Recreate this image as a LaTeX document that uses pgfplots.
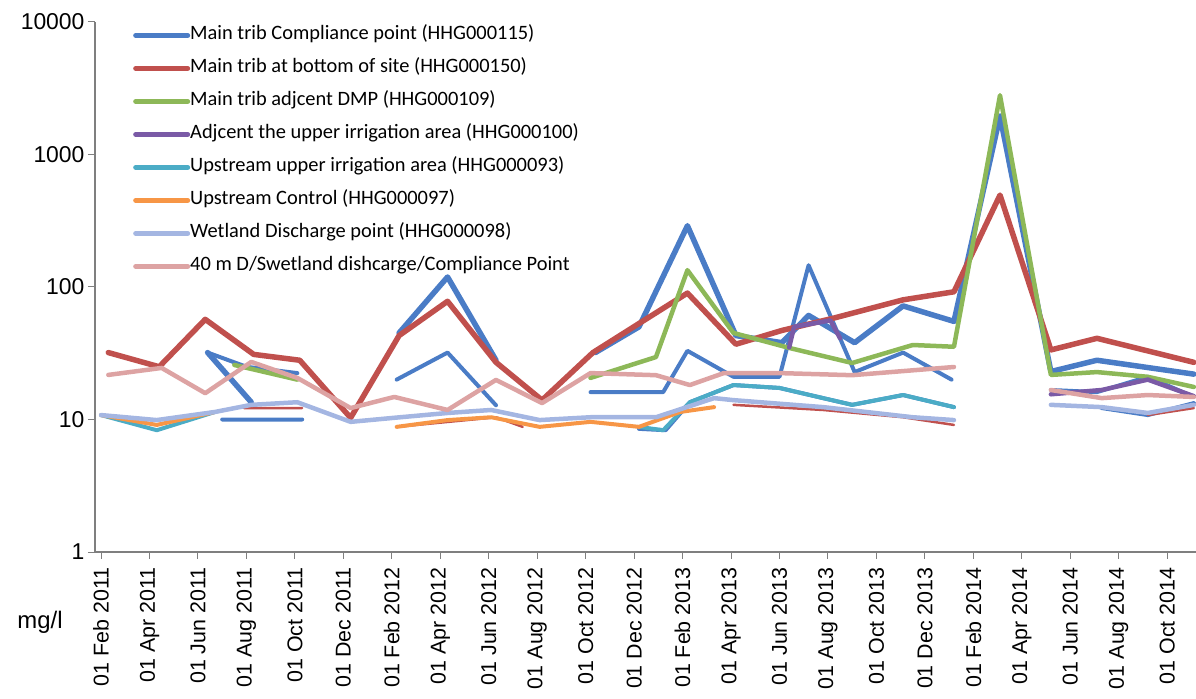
\documentclass[border=0pt]{standalone}
\usepackage{fontspec}
\setmainfont{Liberation Sans}
\newfontfamily\calibri{Carlito}
\usepackage{pgfplots}
\pgfplotsset{compat=1.18}

\definecolor{cBlue}{HTML}{4A7CC6}
\definecolor{cRed}{HTML}{C0504D}
\definecolor{cGreen}{HTML}{8DB858}
\definecolor{cPurple}{HTML}{7A5AA6}
\definecolor{cTeal}{HTML}{4BACC6}
\definecolor{cOrange}{HTML}{F79646}
\definecolor{cWet}{HTML}{A4B6E2}
\definecolor{cPink}{HTML}{DDA3A3}
\definecolor{axisgray}{HTML}{7F7F7F}

\begin{document}
\begin{tikzpicture}
\begin{axis}[
  at={(0,0)}, anchor=south west,
  scale only axis, width=1101bp, height=530bp,
  xmin=-0.25, xmax=45.19,
  ymode=log, ymin=1, ymax=10000,
  axis x line=bottom, axis y line=left,
  axis line style={axisgray, line width=1.2bp, -},
  tick style={axisgray, line width=1bp},
  major tick length=7bp,
  tick align=outside,
  yminorticks=false,
  xtick={0,2,...,44},
  xticklabels={01 Feb 2011,01 Apr 2011,01 Jun 2011,01 Aug 2011,01 Oct 2011,01 Dec 2011,
               01 Feb 2012,01 Apr 2012,01 Jun 2012,01 Aug 2012,01 Oct 2012,01 Dec 2012,
               01 Feb 2013,01 Apr 2013,01 Jun 2013,01 Aug 2013,01 Oct 2013,01 Dec 2013,
               01 Feb 2014,01 Apr 2014,01 Jun 2014,01 Aug 2014,01 Oct 2014},
  ytick={1,10,100,1000,10000},
  yticklabels={1,10,100,1000,10000},
  xticklabel shift=5bp,
  xticklabel style={rotate=90, anchor=east, font=\fontsize{21.5}{21.5}\selectfont},
  yticklabel style={font=\fontsize{23}{23}\selectfont},
  unbounded coords=jump,
  every axis plot/.append style={line join=round, line cap=round},
  legend style={at={(0.0345,0.993)}, anchor=north west, draw=none, fill=none,
    inner sep=0pt, row sep=14bp,
    font=\calibri\fontsize{20.5}{20.5}\selectfont,
    nodes={inner sep=0pt, text height=14bp, text depth=5bp},
    cells={anchor=west},
    /tikz/every even column/.append style={column sep=2bp}},
  legend image code/.code={\draw[#1, line width=5bp, line cap=round] (0bp,0bp) -- (52bp,0bp);},
]

% extra blue traces (no legend entry)
\addplot[cBlue, line width=4bp, forget plot] coordinates {
  (4.4,32) (6.0,25) (8.1,22.4) (10,nan)
  (12.2,20) (14.3,32) (16.3,12.8) (18,nan)
  (20.2,16.1) (23.2,16.1) (24.2,33) (26.1,21) (28.0,21) (29.2,146) (31.1,22.8) (33.1,32) (35.1,20) (37,nan)
  (39.2,16.7) (41.1,16.1) (43.2,21) (45.1,14.8)};
\addplot[cBlue, line width=4bp, forget plot] coordinates {
  (5.0,10) (8.3,10) (10,nan)
  (22.2,8.5) (23.3,8.3) (24.3,13.5) (26.1,18.2) (28.0,17.3) (29.8,14.5) (31.0,12.9) (33.1,15.3) (35.2,12.4) (37,nan)
  (41.3,12.2) (43.2,10.8) (45.1,13.3)};
% thin red trace (no legend entry)
\addplot[cRed, line width=2.5bp, forget plot] coordinates {
  (5.9,12.2) (8.3,12.2) (10,nan)
  (12.2,8.8) (16.3,10.4) (17.4,8.8) (19,nan)
  (26.1,12.9) (29.8,11.8) (33.1,10.4) (35.2,9.1) (37,nan)
  (43.2,10.8) (45.1,12.2)};

% Main trib Compliance point (HHG000115)
\addplot[cBlue, line width=5.5bp] coordinates {
  (4.4,32) (6.2,13.5) (9,nan)
  (12.3,45) (14.3,119) (16.3,28) (18,nan)
  (20.4,32) (22.2,50) (24.2,290) (26.2,43) (28.1,38) (29.2,61) (31.1,38) (33.1,72) (35.2,55)
  (37.1,1950) (39.2,23) (41.1,28) (45.1,22)};
\addlegendentry{Main trib Compliance point (HHG000115)}

% Main trib at bottom of site (HHG000150)
\addplot[cRed, line width=5.5bp] coordinates {
  (0.3,32) (2.4,25) (4.3,57) (6.3,31) (8.2,28) (10.3,10.3) (12.3,43) (14.3,78) (16.3,27)
  (18.2,14) (20.3,32) (22.2,53) (24.2,90) (26.2,37) (28.1,47) (30.2,58) (33.1,80) (35.2,92)
  (37.1,494) (39.2,33.5) (41.1,41) (45.1,27)};
\addlegendentry{Main trib at bottom of site (HHG000150)}

% Main trib adjcent DMP (HHG000109)
\addplot[cGreen, line width=4.5bp] coordinates {
  (5.5,25.8) (8.1,20) (10,nan)
  (20.2,20.6) (22.9,29.6) (24.2,134) (26.1,45) (28.4,34.7) (31.0,26.7) (33.5,36.5) (35.2,35.4)
  (37.1,2800) (39.2,21.7) (41.1,22.8) (43.2,21) (45.1,17.6)};
\addlegendentry{Main trib adjcent DMP (HHG000109)}

% Adjcent the upper irrigation area (HHG000100)
\addplot[cPurple, line width=4.5bp] coordinates {
  (28.4,35) (28.6,50) (30.1,56) (30.5,41) (34,nan)
  (39.2,15.5) (41.3,16.7) (43.2,20) (45.1,15)};
\addlegendentry{Adjcent the upper irrigation area (HHG000100)}

% Upstream upper irrigation area (HHG000093)
\addplot[cTeal, line width=4bp] coordinates {
  (0,10.8) (2.3,8.3) (4.7,11.4) (10,nan)
  (22.2,8.8) (23.2,8.3) (24.3,13.5) (26.1,18.2) (28.0,17.3) (29.8,14.5) (31.0,12.9) (33.1,15.3) (35.2,12.4)};
\addlegendentry{Upstream upper irrigation area (HHG000093)}

% Upstream Control (HHG000097)
\addplot[cOrange, line width=4bp] coordinates {
  (0,10.8) (2.3,9.1) (4.7,11.4) (8,nan)
  (12.2,8.8) (14.3,9.9) (16.1,10.4) (18.1,8.8) (20.2,9.6) (22.2,8.8) (23.9,11.4) (25.3,12.4)};
\addlegendentry{Upstream Control (HHG000097)}

% Wetland Discharge point (HHG000098)
\addplot[cWet, line width=4.5bp] coordinates {
  (0,10.8) (2.3,9.9) (4.7,11.4) (6.2,12.9) (8.1,13.5) (10.3,9.6) (12.1,10.3) (14.3,11.2)
  (16.1,11.8) (18.1,9.9) (20.2,10.4) (22.9,10.4) (25.3,14.5) (26.1,14) (29.8,12.4) (33.5,10.4) (35.2,9.9) (37,nan)
  (39.2,12.9) (41.3,12.4) (43.2,11.2) (45.1,12.9)};
\addlegendentry{Wetland Discharge point (HHG000098)}

% 40 m D/S wetland discharge / compliance point
\addplot[cPink, line width=4.5bp] coordinates {
  (0.3,21.7) (2.5,24.5) (4.3,15.8) (6.2,27.2) (8.1,20.6) (10.3,12.2) (12.1,14.8) (14.3,11.8)
  (16.3,19.9) (18.2,13.3) (20.2,22.4) (22.9,21.6) (24.3,18.2) (25.7,22.4) (28.0,22.4) (31.0,21.6) (35.2,24.9) (37,nan)
  (39.2,16.7) (41.3,14.5) (43.2,15.3) (45.1,14.8)};
\addlegendentry{40 m D/Swetland dishcarge/Compliance Point}
\end{axis}

\node[font=\fontsize{24}{24}\selectfont] at (-55bp,-70bp) {mg/l};

\pgfresetboundingbox
\useasboundingbox (-95bp,-147bp) rectangle (1101bp,552bp);
\end{tikzpicture}
\end{document}
